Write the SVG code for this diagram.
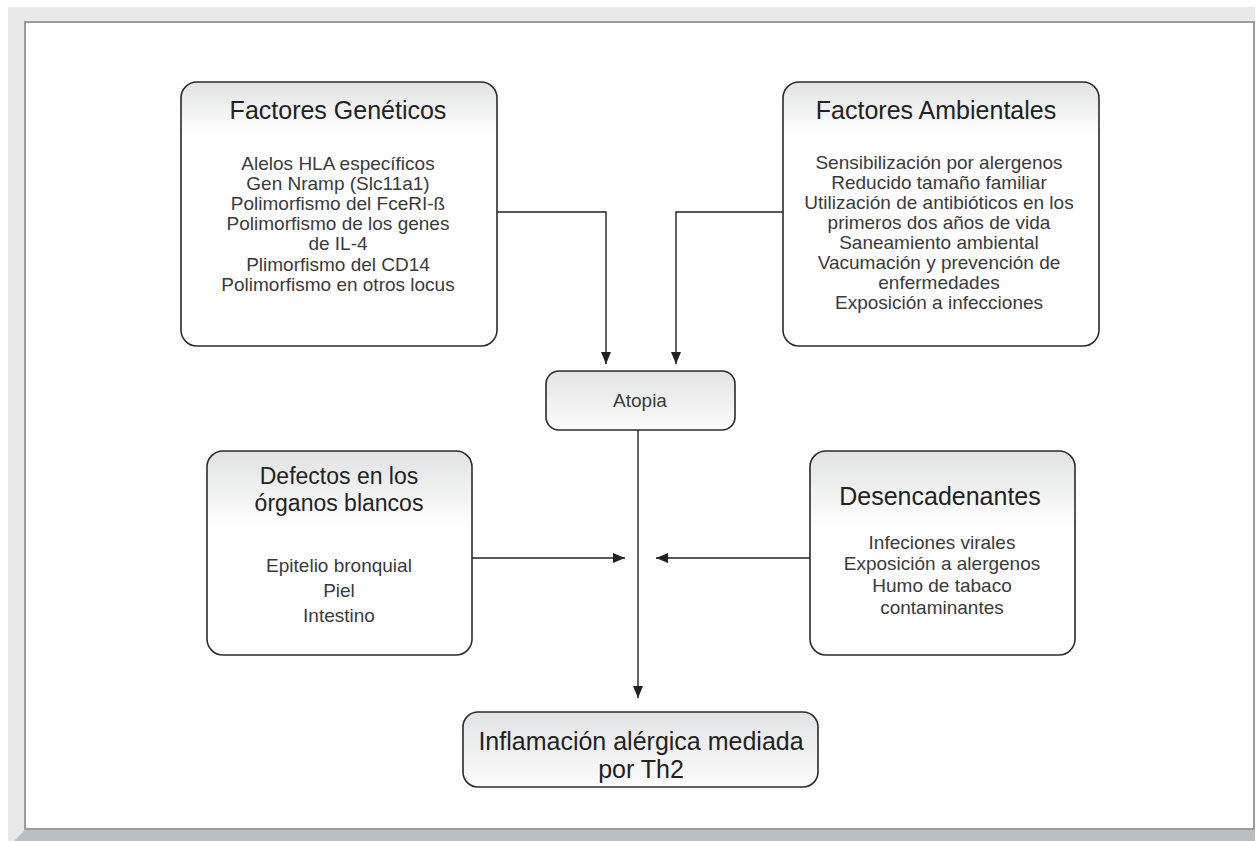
<svg xmlns="http://www.w3.org/2000/svg" width="1256" height="841" viewBox="0 0 1256 841">
  <style>
    .box { stroke: #2b2b2b; stroke-width: 1.6; }
    .title { font-family: "Liberation Sans", Arial, sans-serif; font-size: 25px; fill: #222; text-anchor: middle; }
    .title2 { font-family: "Liberation Sans", Arial, sans-serif; font-size: 23px; fill: #222; text-anchor: middle; }
    .body { font-family: "Liberation Sans", Arial, sans-serif; font-size: 19px; fill: #3a3a3a; text-anchor: middle; }
    .conn { fill: none; stroke: #222; stroke-width: 1.4; }
  </style>
  <defs>
    <linearGradient id="gHeadTall" x1="0" y1="0" x2="0" y2="1">
      <stop offset="0" stop-color="#e1e2e3"/>
      <stop offset="0.2" stop-color="#ffffff"/>
      <stop offset="1" stop-color="#ffffff"/>
    </linearGradient>
    <linearGradient id="gHeadShort" x1="0" y1="0" x2="0" y2="1">
      <stop offset="0" stop-color="#e1e2e3"/>
      <stop offset="0.38" stop-color="#ffffff"/>
      <stop offset="1" stop-color="#ffffff"/>
    </linearGradient>
    <linearGradient id="gSmall" x1="0" y1="0" x2="0" y2="1">
      <stop offset="0" stop-color="#e2e3e4"/>
      <stop offset="1" stop-color="#fcfcfc"/>
    </linearGradient>
    <marker id="arrow" viewBox="0 0 12 10" refX="12" refY="5" markerWidth="12" markerHeight="10" markerUnits="userSpaceOnUse" orient="auto">
      <path d="M0,0 L12,5 L0,10 Z" fill="#222"/>
    </marker>
  </defs>

  <!-- page frame -->
  <rect x="0" y="0" width="1256" height="841" fill="#ffffff"/>
  <rect x="8" y="7" width="1247" height="834" fill="#e8e9ea"/>
  <polygon points="14,841 25,830 1255,830 1255,841" fill="#bdbec1"/>
  <rect x="25" y="22" width="1229" height="807" fill="#ffffff" stroke="#9b9b9b" stroke-width="2"/>

  <g id="connectors">
    <path class="conn" d="M497,212 H606 V364" marker-end="url(#arrow)"/>
    <path class="conn" d="M783,212 H676 V364" marker-end="url(#arrow)"/>
    <path class="conn" d="M638,430 V698" marker-end="url(#arrow)"/>
    <path class="conn" d="M472,558 H625" marker-end="url(#arrow)"/>
    <path class="conn" d="M810,558 H656" marker-end="url(#arrow)"/>
  </g>

  <g id="factores-geneticos">
    <rect class="box" x="181" y="82" width="316" height="264" rx="16" fill="url(#gHeadTall)"/>
    <text class="title" x="338" y="119">Factores Genéticos</text>
    <text class="body" x="338" y="170">Alelos HLA específicos</text>
    <text class="body" x="338" y="190">Gen Nramp (Slc11a1)</text>
    <text class="body" x="338" y="210">Polimorfismo del FceRI-ß</text>
    <text class="body" x="338" y="230">Polimorfismo de los genes</text>
    <text class="body" x="338" y="250">de IL-4</text>
    <text class="body" x="338" y="271">Plimorfismo del CD14</text>
    <text class="body" x="338" y="291">Polimorfismo en otros locus</text>
  </g>

  <g id="factores-ambientales">
    <rect class="box" x="783" y="82" width="316" height="264" rx="16" fill="url(#gHeadTall)"/>
    <text class="title" x="936" y="119">Factores Ambientales</text>
    <text class="body" x="939" y="169">Sensibilización por alergenos</text>
    <text class="body" x="939" y="189">Reducido tamaño familiar</text>
    <text class="body" x="939" y="209">Utilización de antibióticos en los</text>
    <text class="body" x="939" y="229">primeros dos años de vida</text>
    <text class="body" x="939" y="249">Saneamiento ambiental</text>
    <text class="body" x="939" y="269">Vacumación y prevención de</text>
    <text class="body" x="939" y="289">enfermedades</text>
    <text class="body" x="939" y="309">Exposición a infecciones</text>
  </g>

  <g id="atopia">
    <rect class="box" x="546" y="371" width="189" height="59" rx="13" fill="url(#gSmall)"/>
    <text class="body" x="640" y="407">Atopia</text>
  </g>

  <g id="defectos">
    <rect class="box" x="207" y="451" width="265" height="204" rx="16" fill="url(#gHeadShort)"/>
    <text class="title2" x="339" y="484">Defectos en los</text>
    <text class="title2" x="339" y="511">órganos blancos</text>
    <text class="body" x="339" y="572">Epitelio bronquial</text>
    <text class="body" x="339" y="597">Piel</text>
    <text class="body" x="339" y="622">Intestino</text>
  </g>

  <g id="desencadenantes">
    <rect class="box" x="810" y="451" width="265" height="204" rx="16" fill="url(#gHeadShort)"/>
    <text class="title" x="940" y="505">Desencadenantes</text>
    <text class="body" x="942" y="549">Infeciones virales</text>
    <text class="body" x="942" y="570">Exposición a alergenos</text>
    <text class="body" x="942" y="592">Humo de tabaco</text>
    <text class="body" x="942" y="614">contaminantes</text>
  </g>

  <g id="inflamacion">
    <rect class="box" x="463" y="712" width="355" height="75" rx="15" fill="url(#gSmall)"/>
    <text class="title" x="641" y="750">Inflamación alérgica mediada</text>
    <text class="title" x="641" y="778">por Th2</text>
  </g>
</svg>
